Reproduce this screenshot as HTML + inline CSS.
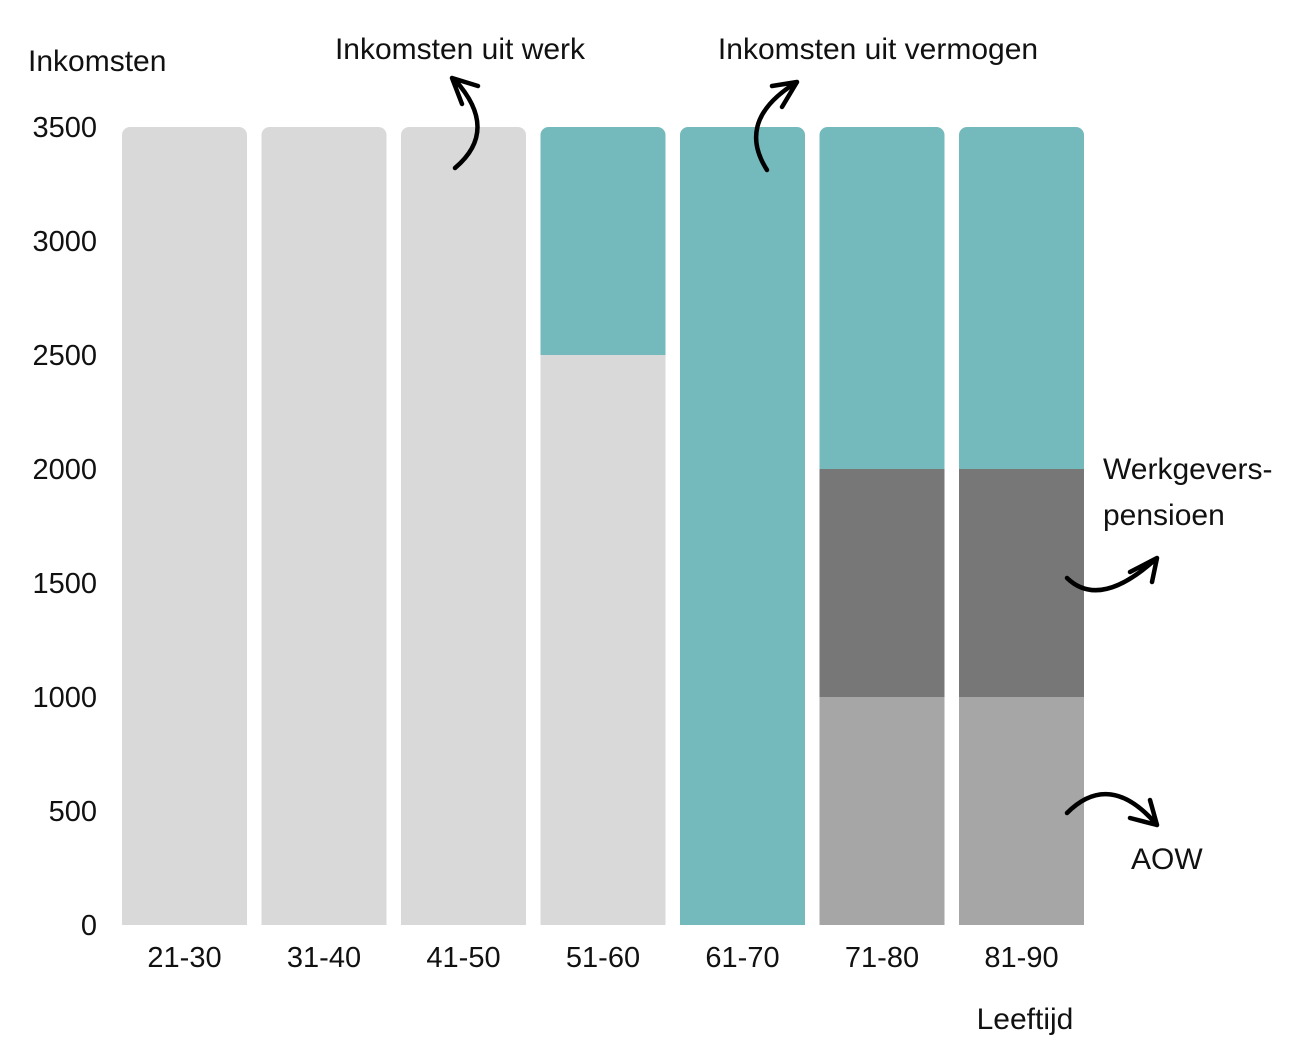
<!DOCTYPE html>
<html><head><meta charset="utf-8"><style>
html,body{margin:0;padding:0;background:#fff;}
svg text{font-family:"Liberation Sans",sans-serif;fill:#111;}
</style></head><body>
<svg id="chart" width="1314" height="1059" xmlns="http://www.w3.org/2000/svg">
<text x="28" y="71" font-size="30">Inkomsten</text>
<text x="1025" y="1029" font-size="30" text-anchor="middle">Leeftijd</text>
<g id="ticks"></g>
<g id="bars"></g>
<g id="cats"></g>
<text x="460" y="59" font-size="30" text-anchor="middle">Inkomsten uit werk</text>
<text x="878" y="59" font-size="30" text-anchor="middle">Inkomsten uit vermogen</text>
<text x="1103" y="479" font-size="30">Werkgevers-</text>
<text x="1103" y="525" font-size="30">pensioen</text>
<text x="1131" y="869" font-size="30">AOW</text>
<g fill="none" stroke="#000" stroke-width="4.5" stroke-linecap="round" stroke-linejoin="round">
<path d="M455 168 Q500 130 455 80 M452 78 L478 86 M452 78 L462 104"/>
<path d="M767 170 Q735 120 797 82 M797 82 L772 86 M797 82 L782 107"/>
<path d="M1067 578 Q1100 610 1157 558 M1157 558 L1130 572 M1157 558 L1152 582"/>
<path d="M1067 813 Q1110 770 1157 825 M1157 825 L1130 818 M1157 825 L1150 800"/>
</g>
</svg>
<script>
const categories=["21-30","31-40","41-50","51-60","61-70","71-80","81-90"];
const work=[3500,3500,3500,2500,0,0,0];
const aow=[0,0,0,0,0,1000,1000];
const pension=[0,0,0,0,0,1000,1000];
const wealth=[0,0,0,1000,3500,1500,1500];
const tickLabels=[0,500,1000,1500,2000,2500,3000,3500];
const NS="http://www.w3.org/2000/svg";
const y=v=>925-v*798/3500;
const x=i=>122+i*139.5;
const bw=125;
const ticks=document.getElementById('ticks');
tickLabels.forEach(t=>{const e=document.createElementNS(NS,'text');
e.setAttribute('x',97);e.setAttribute('y',y(t)+10);e.setAttribute('font-size','29');e.setAttribute('text-anchor','end');e.textContent=t;


ticks.appendChild(e);});
const bars=document.getElementById('bars'),cats=document.getElementById('cats');
const series=[["work",work,"#d9d9d9"],["aow",aow,"#a6a6a6"],["pension",pension,"#777777"],["wealth",wealth,"#74b9bc"]];
categories.forEach((c,i)=>{
 let base=0;const total=work[i]+aow[i]+pension[i]+wealth[i];
 const cp=document.createElementNS(NS,'clipPath');cp.setAttribute('id','cp'+i);
 const r=document.createElementNS(NS,'rect');r.setAttribute('x',x(i));r.setAttribute('y',y(total));r.setAttribute('width',bw);r.setAttribute('height',y(0)-y(total)+20);r.setAttribute('rx',8);
 cp.appendChild(r);bars.appendChild(cp);
 series.forEach(([n,arr,col])=>{const v=arr[i];if(!v)return;
  const e=document.createElementNS(NS,'rect');
  e.setAttribute('x',x(i));e.setAttribute('y',y(base+v));e.setAttribute('width',bw);e.setAttribute('height',y(base)-y(base+v));e.setAttribute('fill',col);e.setAttribute('clip-path','url(#cp'+i+')');
  
  
  bars.appendChild(e);base+=v;});
 const t=document.createElementNS(NS,'text');t.setAttribute('x',x(i)+bw/2);t.setAttribute('y',967);t.setAttribute('font-size','29');t.setAttribute('text-anchor','middle');t.textContent=c;
 
 
 cats.appendChild(t);
});
</script>
</body></html>
